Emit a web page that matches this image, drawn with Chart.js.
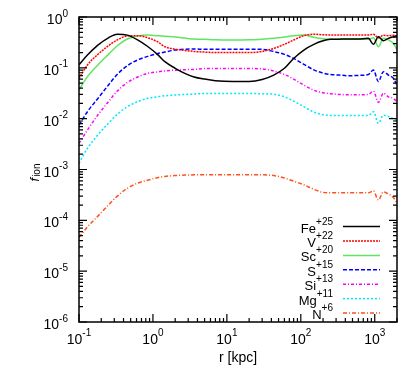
<!DOCTYPE html>
<html>
<head>
<meta charset="utf-8">
<script src="https://cdn.jsdelivr.net/npm/chart.js@4.4.1/dist/chart.umd.min.js"></script>
<style>
  html, body { margin: 0; padding: 0; background: #fff; }
  #wrap { width: 418px; height: 369px; }
</style>
</head>
<body>
<div id="wrap"><canvas id="chart"></canvas></div>
<script>
// radius in kpc, ion fractions
const radius = [0.1, 0.13, 0.18, 0.25, 0.33, 0.45, 0.62, 0.85, 1.15, 1.45, 2, 2.7, 3.6, 5, 7, 12, 20, 30, 43, 60, 80, 110, 150, 200, 250, 330, 450, 600, 820, 960, 1120, 1310, 1530, 1790, 2000];

const fe25 = [0.115, 0.178, 0.28, 0.39, 0.457, 0.44, 0.355, 0.263, 0.184, 0.132, 0.098, 0.078, 0.066, 0.06, 0.056, 0.054, 0.054, 0.059, 0.072, 0.098, 0.153, 0.224, 0.29, 0.34, 0.363, 0.367, 0.369, 0.37, 0.38, 0.29, 0.41, 0.34, 0.38, 0.41, 0.43];
const v22 = [0.062, 0.114, 0.184, 0.272, 0.355, 0.423, 0.43, 0.39, 0.327, 0.26, 0.234, 0.22, 0.21, 0.204, 0.2, 0.2, 0.2, 0.21, 0.24, 0.29, 0.352, 0.43, 0.457, 0.447, 0.443, 0.443, 0.443, 0.443, 0.443, 0.457, 0.39, 0.436, 0.43, 0.436, 0.415];
const sc20 = [0.0366, 0.067, 0.114, 0.184, 0.272, 0.369, 0.423, 0.443, 0.428, 0.417, 0.403, 0.385, 0.369, 0.363, 0.355, 0.352, 0.355, 0.363, 0.38, 0.403, 0.43, 0.443, 0.4, 0.372, 0.363, 0.363, 0.363, 0.363, 0.363, 0.39, 0.26, 0.38, 0.355, 0.3, 0.224];
const s15 = [0.0075, 0.0137, 0.025, 0.0458, 0.0745, 0.11, 0.143, 0.168, 0.19, 0.204, 0.224, 0.232, 0.234, 0.232, 0.232, 0.232, 0.232, 0.231, 0.209, 0.184, 0.153, 0.117, 0.091, 0.079, 0.074, 0.072, 0.07, 0.071, 0.074, 0.0906, 0.0537, 0.084, 0.072, 0.062, 0.0457];
const si13 = [0.00326, 0.00597, 0.0118, 0.0215, 0.0349, 0.0513, 0.066, 0.078, 0.083, 0.087, 0.09, 0.092, 0.093, 0.0966, 0.0966, 0.0966, 0.0966, 0.0955, 0.0865, 0.074, 0.06, 0.0457, 0.0363, 0.0324, 0.031, 0.03, 0.0295, 0.0295, 0.03, 0.0349, 0.0209, 0.0316, 0.0269, 0.025, 0.0215];
const mg11 = [0.00132, 0.0026, 0.00479, 0.00813, 0.0122, 0.0172, 0.0215, 0.0251, 0.0269, 0.0282, 0.0292, 0.0299, 0.0305, 0.0313, 0.0313, 0.0313, 0.0313, 0.0309, 0.0302, 0.0269, 0.0222, 0.0172, 0.0135, 0.012, 0.0116, 0.0115, 0.0115, 0.0115, 0.0115, 0.0137, 0.0081, 0.0117, 0.011, 0.01, 0.0089];
const n6 = [4.6e-5, 7.4e-5, 1.21e-4, 2.0e-4, 3.0e-4, 4.27e-4, 5.37e-4, 6.17e-4, 6.9e-4, 7.3e-4, 7.6e-4, 7.76e-4, 7.85e-4, 7.85e-4, 7.85e-4, 7.85e-4, 7.85e-4, 7.85e-4, 7.6e-4, 6.8e-4, 5.9e-4, 5.0e-4, 4.07e-4, 3.55e-4, 3.47e-4, 3.47e-4, 3.47e-4, 3.47e-4, 3.47e-4, 3.8e-4, 2.5e-4, 3.63e-4, 3.3e-4, 2.8e-4, 2.2e-4];

const ionNames = ['Fe', 'V', 'Sc', 'S', 'Si', 'Mg', 'N'];
const ionCharges = ['+25', '+22', '+20', '+15', '+13', '+11', '+6'];
const xExponents = [-1, 0, 1, 2, 3];
const yExponents = [-6, -5, -4, -3, -2, -1, 0];

const FONT = '"Liberation Sans", Arial, Helvetica, sans-serif';

function series(values, color, dash) {
    return {
        data: radius.map((r, i) => ({ x: r, y: values[i] })),
        borderColor: color,
        borderWidth: 1.5,
        borderDash: dash,
        pointRadius: 0,
        cubicInterpolationMode: 'monotone',
        fill: false
    };
}

const datasets = [
    series(fe25, '#000000', []),
    series(v22, '#ff0000', [2, 1]),
    series(sc20, '#5fe65f', []),
    series(s15, '#0000ff', [4, 2]),
    series(si13, '#ff00ff', [3, 2, 1, 2]),
    series(mg11, '#00e8ff', [2, 2]),
    series(n6, '#ff4f1a', [4, 2, 1, 2])
];
datasets.forEach((d, i) => { d.label = ionNames[i] + ionCharges[i]; });

// power-of-ten label: "10" with a raised exponent
function powerLabel(ctx, exp, x, y, align, supRise) {
    ctx.font = '14px ' + FONT;
    const tenW = ctx.measureText('10').width;
    ctx.font = '10px ' + FONT;
    const expW = ctx.measureText(String(exp)).width;
    let left = align === 'right' ? x - tenW - expW : x - (tenW + expW) / 2;
    ctx.textAlign = 'left';
    ctx.textBaseline = 'alphabetic';
    ctx.font = '14px ' + FONT;
    ctx.fillText('10', left, y);
    ctx.font = '10px ' + FONT;
    ctx.fillText(String(exp), left + tenW, y - supRise);
}

const framePlugin = {
    id: 'frame',
    afterDraw(chart) {
        const { ctx, chartArea: a, scales } = chart;
        const xs = scales.x, ys = scales.y;
        ctx.save();
        ctx.strokeStyle = '#000';
        ctx.fillStyle = '#000';
        ctx.lineWidth = 1.5;
        ctx.setLineDash([]);
        ctx.strokeRect(a.left, a.top, a.right - a.left, a.bottom - a.top);

        ctx.lineWidth = 1.2;
        ctx.beginPath();
        // x ticks, top and bottom, pointing inwards
        for (let e = -1; e <= 3; e++) {
            for (let m = 1; m <= 9; m++) {
                const v = m * Math.pow(10, e);
                if (v < xs.min || v > xs.max) continue;
                const px = xs.getPixelForValue(v);
                const len = m === 1 ? 8 : 4;
                ctx.moveTo(px, a.bottom); ctx.lineTo(px, a.bottom - len);
                ctx.moveTo(px, a.top); ctx.lineTo(px, a.top + len);
            }
        }
        // y ticks, left and right
        for (let e = -6; e <= 0; e++) {
            for (let m = 1; m <= 9; m++) {
                const v = m * Math.pow(10, e);
                if (v < ys.min || v > ys.max) continue;
                const py = ys.getPixelForValue(v);
                const len = m === 1 ? 8 : 4;
                ctx.moveTo(a.left, py); ctx.lineTo(a.left + len, py);
                ctx.moveTo(a.right, py); ctx.lineTo(a.right - len, py);
            }
        }
        ctx.stroke();

        // tick labels
        xExponents.forEach(e => {
            powerLabel(ctx, e, xs.getPixelForValue(Math.pow(10, e)), a.bottom + 21.5, 'center', 7.5);
        });
        yExponents.forEach(e => {
            powerLabel(ctx, e, a.left - 11, ys.getPixelForValue(Math.pow(10, e)) + 7, 'right', 7.5);
        });

        // axis titles
        ctx.font = '14px ' + FONT;
        ctx.textAlign = 'center';
        ctx.fillText('r [kpc]', (a.left + a.right) / 2, a.bottom + 40);

        ctx.save();
        ctx.translate(38.5, (a.top + a.bottom) / 2 + 3);
        ctx.rotate(-Math.PI / 2);
        ctx.font = 'italic 13px ' + FONT;
        const fW = ctx.measureText('f').width;
        ctx.font = '10px ' + FONT;
        const ionW = ctx.measureText('ion').width;
        const start = -(fW + ionW + 1) / 2;
        ctx.textAlign = 'left';
        ctx.font = 'italic 13px ' + FONT;
        ctx.fillText('f', start, 0);
        ctx.font = '10px ' + FONT;
        ctx.fillText('ion', start + fW + 1, 1.5);
        ctx.restore();

        // legend, text on the left of each line sample
        const rowH = 14.4;
        const lineEnd = a.right - 17;
        const lineStart = lineEnd - 37;
        const textRight = lineStart - 10;
        chart.data.datasets.forEach((d, i) => {
            const y = a.bottom - 9 - (datasets.length - 1 - i) * rowH;
            ctx.font = '10px ' + FONT;
            const supW = ctx.measureText(ionCharges[i]).width;
            ctx.textAlign = 'right';
            ctx.fillStyle = '#000';
            ctx.fillText(ionCharges[i], textRight, y - 2);
            ctx.font = '13px ' + FONT;
            ctx.fillText(ionNames[i], textRight - supW, y + 6);
            ctx.beginPath();
            ctx.strokeStyle = d.borderColor;
            ctx.lineWidth = d.borderWidth;
            ctx.setLineDash(d.borderDash);
            ctx.moveTo(lineStart, y);
            ctx.lineTo(lineEnd, y);
            ctx.stroke();
        });
        ctx.restore();
    }
};

const chart = new Chart(document.getElementById('chart'), {
    type: 'line',
    data: { datasets: datasets },
    options: {
        responsive: true,
        maintainAspectRatio: false,
        animation: false,
        layout: { padding: { top: 17, right: 21, left: 0, bottom: 0 } },
        plugins: { legend: { display: false }, tooltip: { enabled: false } },
        scales: {
            x: {
                type: 'logarithmic',
                min: 0.1,
                max: 2000,
                grid: { display: false },
                border: { display: false },
                ticks: { display: false },
                afterFit(s) { s.height = 47; }
            },
            y: {
                type: 'logarithmic',
                min: 1e-6,
                max: 1,
                grid: { display: false },
                border: { display: false },
                ticks: { display: false },
                afterFit(s) { s.width = 79; }
            }
        }
    },
    plugins: [framePlugin]
});
</script>
</body>
</html>
